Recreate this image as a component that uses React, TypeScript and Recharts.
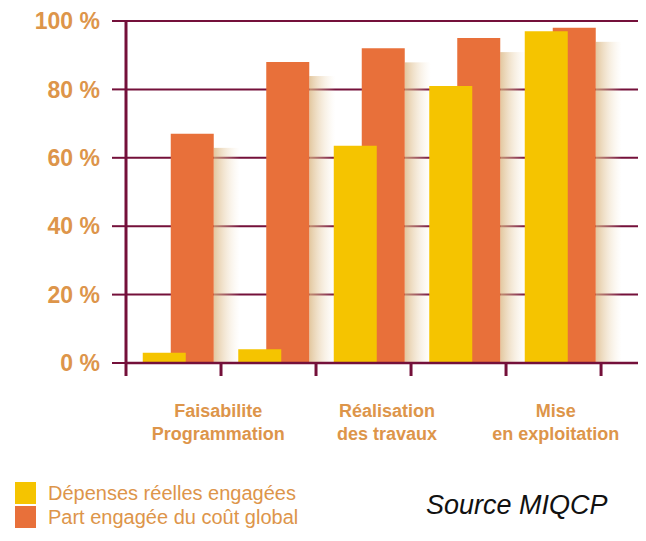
import { BarChart, Bar, XAxis, YAxis, CartesianGrid, Legend, Rectangle } from "recharts";

const steps = ["E1", "E2", "E3", "E4", "E5"];
const stages = [
  "Faisabilite\nProgrammation",
  "Faisabilite\nProgrammation",
  "Réalisation\ndes travaux",
  "Réalisation\ndes travaux",
  "Mise\nen exploitation",
];
const depenses = [3, 4, 63.5, 81, 97];
const partEngagee = [67, 88, 92, 95, 98];
const yTicks = [0, 20, 40, 60, 80, 100];
const seriesNames = ["Dépenses réelles engagées", "Part engagée du coût global"];

const data = steps.map((step, i) => ({
  step,
  slot: i,
  stage: stages[i],
  depenses: depenses[i],
  part: partEngagee[i],
}));
// boundaries between the steps, where the axis has its tick marks
const boundaries = steps.map((_, i) => i).concat(steps.length);

const MAROON = "#74103a";
const YELLOW = "#f5c400";
const ORANGE = "#e8703a";
const TAN = "#dd954a";
const FONT = "'Liberation Sans', Arial, sans-serif";

const StageTick = ({ x, y, payload }: any) => {
  const lines = String(payload.value).split("\n");
  return (
    <text x={x} y={y} textAnchor="middle" fill={TAN} fontSize={18} fontWeight="bold" fontFamily={FONT}>
      {lines.map((line, i) => (
        <tspan key={i} x={x} dy={i === 0 ? 40 : 23}>
          {line}
        </tspan>
      ))}
    </text>
  );
};

// orange bar with the soft beige shade on its right side
const ShadedBar = (props: any) => {
  const { x, y, width, height } = props;
  return (
    <g>
      <defs>
        <linearGradient id="barShade" x1="0" y1="0" x2="1" y2="0">
          <stop offset="0%" stopColor="#d9b47e" stopOpacity={0.75} />
          <stop offset="100%" stopColor="#f3e3c8" stopOpacity={0} />
        </linearGradient>
      </defs>
      <rect x={x + width} y={y + 14} width={26} height={Math.max(height - 14, 0)} fill="url(#barShade)" />
      <Rectangle {...props} />
    </g>
  );
};

const LegendContent = ({ payload }: any) => {
  const items = [...(payload || [])].sort(
    (a, b) => seriesNames.indexOf(a.value) - seriesNames.indexOf(b.value)
  );
  return (
    <div style={{ height: 50, paddingTop: 2, boxSizing: "border-box" }}>
      {items.map((entry: any) => (
        <div key={entry.value} style={{ display: "flex", alignItems: "center", height: 24 }}>
          <span style={{ width: 21, height: 22, background: entry.color, marginRight: 12 }} />
          <span style={{ fontSize: 20, color: TAN, fontFamily: FONT }}>{entry.value}</span>
        </div>
      ))}
    </div>
  );
};

export default function App() {
  return (
    <div style={{ position: "relative", width: 638, height: 533, fontFamily: FONT }}>
      <BarChart width={638} height={533} data={data} margin={{ top: 13, right: 6, bottom: 12, left: 0 }}>
        <CartesianGrid vertical={false} stroke={MAROON} strokeWidth={2} />
        <YAxis
          width={118}
          domain={[0, 100]}
          ticks={yTicks}
          tickFormatter={(v) => `${v} %`}
          tickSize={14}
          tickMargin={12}
          axisLine={{ stroke: MAROON, strokeWidth: 3 }}
          tickLine={{ stroke: MAROON, strokeWidth: 2 }}
          tick={{ fill: TAN, fontSize: 23, fontWeight: "bold", fontFamily: FONT }}
        />
        <XAxis
          type="number"
          dataKey="slot"
          domain={[0, 5.41]}
          allowDataOverflow
          ticks={boundaries}
          interval={0}
          tickFormatter={() => ""}
          tickSize={13}
          height={14}
          axisLine={{ stroke: MAROON, strokeWidth: 2.5 }}
          tickLine={{ stroke: MAROON, strokeWidth: 3 }}
        />
        <XAxis
          xAxisId="labels"
          dataKey="stage"
          allowDuplicatedCategory={false}
          padding={{ left: 8, right: 0 }}
          height={102}
          axisLine={false}
          tickLine={false}
          tickSize={0}
          tickMargin={0}
          interval={0}
          tick={<StageTick />}
        />
        <XAxis xAxisId="orange" dataKey="step" hide padding={{ left: 18.75, right: 17.75 }} />
        <XAxis xAxisId="yellow" dataKey="step" hide padding={{ left: -9.25, right: 45.75 }} />
        <Legend
          verticalAlign="bottom"
          align="left"
          content={<LegendContent />}
          wrapperStyle={{ left: 7, width: 400 }}
        />
        <Bar
          xAxisId="orange"
          dataKey="part"
          name={seriesNames[1]}
          fill={ORANGE}
          barSize={43}
          shape={ShadedBar}
          isAnimationActive={false}
        />
        <Bar xAxisId="yellow" dataKey="depenses" name={seriesNames[0]} fill={YELLOW} barSize={43} isAnimationActive={false} />
      </BarChart>
      <div
        style={{
          position: "absolute",
          left: 418,
          top: 484,
          fontSize: 27,
          lineHeight: "27px",
          fontStyle: "italic",
          color: "#111",
          fontFamily: FONT,
        }}
      >
        Source MIQCP
      </div>
    </div>
  );
}
